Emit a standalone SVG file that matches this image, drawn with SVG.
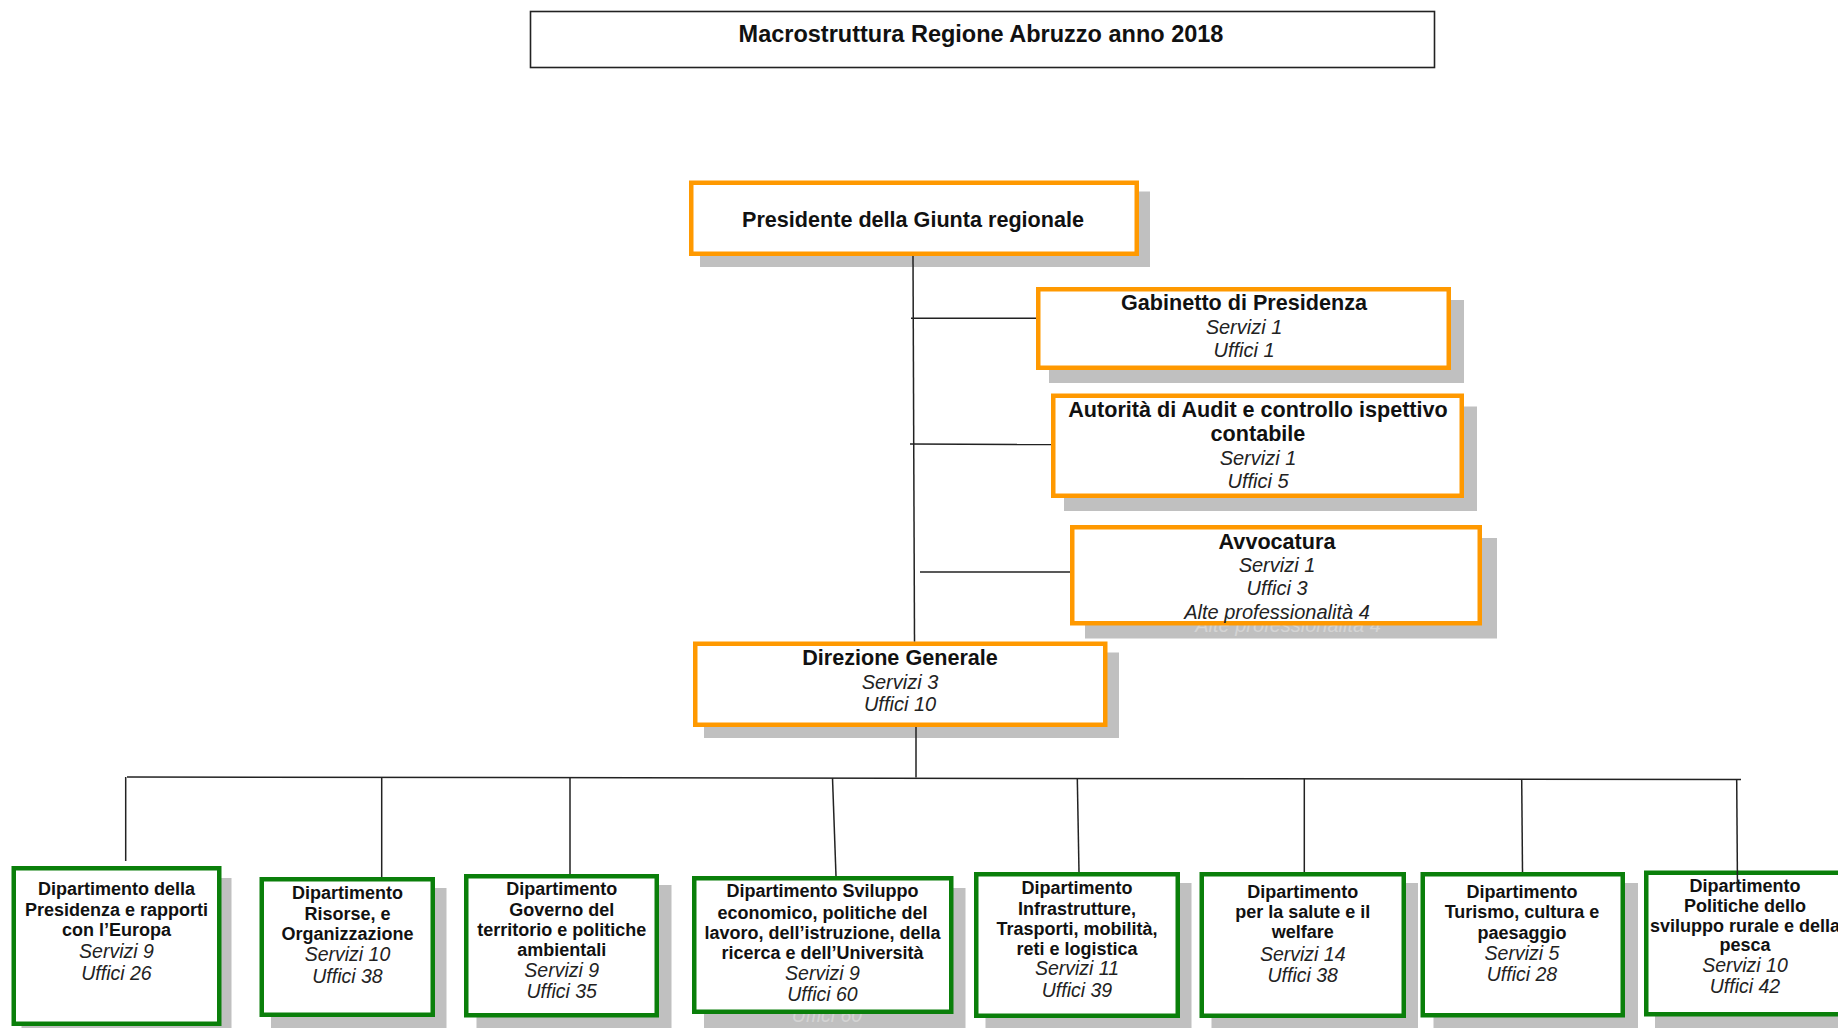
<svg xmlns="http://www.w3.org/2000/svg" width="1838" height="1028" viewBox="0 0 1838 1028">
<style>
  text { font-family: "Liberation Sans", Arial, sans-serif; text-anchor: middle; }
  .title { font-size: 23.5px; font-weight: bold; fill: #111; }
  .tb { font-size: 21.6px; font-weight: bold; fill: #111; }
  .ti { font-size: 20px; font-style: italic; fill: #222; }
  .bb { font-size: 18px; font-weight: bold; fill: #111; }
  .bi { font-size: 19.5px; font-style: italic; fill: #222; }
  .ghost { fill: #d4d4d4; }
  .shadow { fill: #c0c0c0; }
  .orange { fill: #fff; stroke: #ff9900; stroke-width: 4.5; }
  .green { fill: #fff; stroke: #0a7f0a; stroke-width: 4.5; }
  .conn line, .conn path { stroke: #222; stroke-width: 1.5; fill: none; }
</style>

<g id="title">
  <rect x="530.5" y="11.5" width="904" height="56" fill="#fff" stroke="#222" stroke-width="1.6"/>
  <text class="title" x="981" y="42">Macrostruttura Regione Abruzzo anno 2018</text>
</g>

<g id="presidente">
  <rect class="shadow" x="700" y="191.5" width="450" height="75.5"/>
  <rect class="orange" x="691.25" y="182.75" width="445.5" height="71"/>
  <text class="tb" x="913" y="227">Presidente della Giunta regionale</text>
</g>

<g id="gabinetto">
  <rect class="shadow" x="1049" y="300" width="415" height="83"/>
  <rect class="orange" x="1038.25" y="289.25" width="410.5" height="78.5"/>
  <text class="tb" x="1244" y="310">Gabinetto di Presidenza</text>
  <text class="ti" x="1244" y="333.5">Servizi 1</text>
  <text class="ti" x="1244" y="356.5">Uffici 1</text>
</g>

<g id="audit">
  <rect class="shadow" x="1064" y="406.5" width="413" height="104.5"/>
  <rect class="orange" x="1053.25" y="395.75" width="408.5" height="100"/>
  <text class="tb" x="1258" y="416.5">Autorità di Audit e controllo ispettivo</text>
  <text class="tb" x="1258" y="440.5">contabile</text>
  <text class="ti" x="1258" y="464.5">Servizi 1</text>
  <text class="ti" x="1258" y="487.5">Uffici 5</text>
</g>

<g id="avvocatura">
  <rect class="shadow" x="1085" y="538" width="412" height="100.5"/>
  <text class="ti ghost" x="1288" y="632">Alte professionalità 4</text>
  <rect class="orange" x="1072.25" y="527.25" width="407.5" height="96"/>
  <text class="tb" x="1277" y="548.5">Avvocatura</text>
  <text class="ti" x="1277" y="572">Servizi 1</text>
  <text class="ti" x="1277" y="595">Uffici 3</text>
  <text class="ti" x="1277" y="618.5">Alte professionalità 4</text>
</g>

<g id="direzione">
  <rect class="shadow" x="704" y="652.5" width="415" height="85.5"/>
  <rect class="orange" x="695.25" y="643.75" width="410" height="81"/>
  <text class="tb" x="900" y="665">Direzione Generale</text>
  <text class="ti" x="900" y="688.5">Servizi 3</text>
  <text class="ti" x="900" y="711">Uffici 10</text>
</g>

<g id="dip-presidenza">
  <rect class="shadow" x="21.5" y="878" width="210" height="160"/>
  <rect class="green" x="13.75" y="868.25" width="205.5" height="155.5"/>
  <text class="bb" x="116.5" y="894.7">Dipartimento della</text>
  <text class="bb" x="116.5" y="916.3">Presidenza e rapporti</text>
  <text class="bb" x="116.5" y="936.3">con l’Europa</text>
  <text class="bi" x="116.5" y="958">Servizi 9</text>
  <text class="bi" x="116.5" y="979.7">Uffici 26</text>
</g>

<g id="dip-risorse">
  <rect class="shadow" x="271" y="888" width="175.5" height="150"/>
  <rect class="green" x="261.75" y="879.25" width="171" height="135.5"/>
  <text class="bb" x="347.5" y="898.7">Dipartimento</text>
  <text class="bb" x="347.5" y="919.7">Risorse, e</text>
  <text class="bb" x="347.5" y="939.7">Organizzazione</text>
  <text class="bi" x="347.5" y="961.3">Servizi 10</text>
  <text class="bi" x="347.5" y="983">Uffici 38</text>
</g>

<g id="dip-governo">
  <rect class="shadow" x="476.5" y="885" width="195" height="150"/>
  <rect class="green" x="466.25" y="876.25" width="190.5" height="139"/>
  <text class="bb" x="561.7" y="894.7">Dipartimento</text>
  <text class="bb" x="561.7" y="916.3">Governo del</text>
  <text class="bb" x="561.7" y="936.3">territorio e politiche</text>
  <text class="bb" x="561.7" y="956.3">ambientali</text>
  <text class="bi" x="561.7" y="977.3">Servizi 9</text>
  <text class="bi" x="561.7" y="998">Uffici 35</text>
</g>

<g id="dip-sviluppo">
  <rect class="shadow" x="704" y="888" width="261.5" height="150"/>
  <text class="bi ghost" x="827" y="1022">Uffici 60</text>
  <rect class="green" x="694.25" y="878.25" width="257" height="133.5"/>
  <text class="bb" x="822.5" y="897.3">Dipartimento Sviluppo</text>
  <text class="bb" x="822.5" y="918.7">economico, politiche del</text>
  <text class="bb" x="822.5" y="938.7">lavoro, dell’istruzione, della</text>
  <text class="bb" x="822.5" y="958.7">ricerca e dell’Università</text>
  <text class="bi" x="822.5" y="980.3">Servizi 9</text>
  <text class="bi" x="822.5" y="1001.3">Uffici 60</text>
</g>

<g id="dip-infrastrutture">
  <rect class="shadow" x="985.5" y="883" width="206" height="150"/>
  <rect class="green" x="976.25" y="874.25" width="201.5" height="141.5"/>
  <text class="bb" x="1077" y="894">Dipartimento</text>
  <text class="bb" x="1077" y="914.7">Infrastrutture,</text>
  <text class="bb" x="1077" y="934.7">Trasporti, mobilità,</text>
  <text class="bb" x="1077" y="954.7">reti e logistica</text>
  <text class="bi" x="1077" y="975.3">Servizi 11</text>
  <text class="bi" x="1077" y="997.3">Uffici 39</text>
</g>

<g id="dip-salute">
  <rect class="shadow" x="1211.5" y="883" width="206.5" height="150"/>
  <rect class="green" x="1201.75" y="874.25" width="202" height="141.5"/>
  <text class="bb" x="1302.7" y="898">Dipartimento</text>
  <text class="bb" x="1302.7" y="918">per la salute e il</text>
  <text class="bb" x="1302.7" y="938">welfare</text>
  <text class="bi" x="1302.7" y="960.5">Servizi 14</text>
  <text class="bi" x="1302.7" y="981.7">Uffici 38</text>
</g>

<g id="dip-turismo">
  <rect class="shadow" x="1433.5" y="883" width="204.5" height="150"/>
  <rect class="green" x="1422.75" y="874.25" width="200" height="141"/>
  <text class="bb" x="1522" y="898">Dipartimento</text>
  <text class="bb" x="1522" y="918">Turismo, cultura e</text>
  <text class="bb" x="1522" y="938.7">paesaggio</text>
  <text class="bi" x="1522" y="959.7">Servizi 5</text>
  <text class="bi" x="1522" y="981.3">Uffici 28</text>
</g>

<g id="dip-agricoltura">
  <rect class="shadow" x="1655" y="883" width="202" height="150"/>
  <rect class="green" x="1646.25" y="872.75" width="197.5" height="141.5"/>
  <text class="bb" x="1745" y="892">Dipartimento</text>
  <text class="bb" x="1745" y="912">Politiche dello</text>
  <text class="bb" x="1745" y="932">sviluppo rurale e della</text>
  <text class="bb" x="1745" y="951.3">pesca</text>
  <text class="bi" x="1745" y="972">Servizi 10</text>
  <text class="bi" x="1745" y="993">Uffici 42</text>
</g>

<g id="connectors" class="conn">
  <line x1="913" y1="256" x2="914.5" y2="641.5"/>
  <line x1="911" y1="318.3" x2="1036" y2="318.3"/>
  <line x1="910" y1="444" x2="1051" y2="444.5"/>
  <line x1="920" y1="572" x2="1070" y2="572"/>
  <line x1="916" y1="727" x2="916" y2="777.5"/>
  <line x1="127" y1="777" x2="1741" y2="779.5"/>
  <line x1="125.7" y1="777" x2="125.7" y2="861"/>
  <line x1="381.7" y1="777.5" x2="381.7" y2="877"/>
  <line x1="570" y1="778" x2="570" y2="874"/>
  <line x1="832.5" y1="778" x2="836" y2="876"/>
  <line x1="1077.3" y1="778" x2="1079" y2="872"/>
  <line x1="1304.3" y1="778.5" x2="1304.3" y2="872"/>
  <line x1="1521.7" y1="779" x2="1522.5" y2="872"/>
  <line x1="1736.7" y1="779.5" x2="1737.5" y2="891"/>
</g>
</svg>
